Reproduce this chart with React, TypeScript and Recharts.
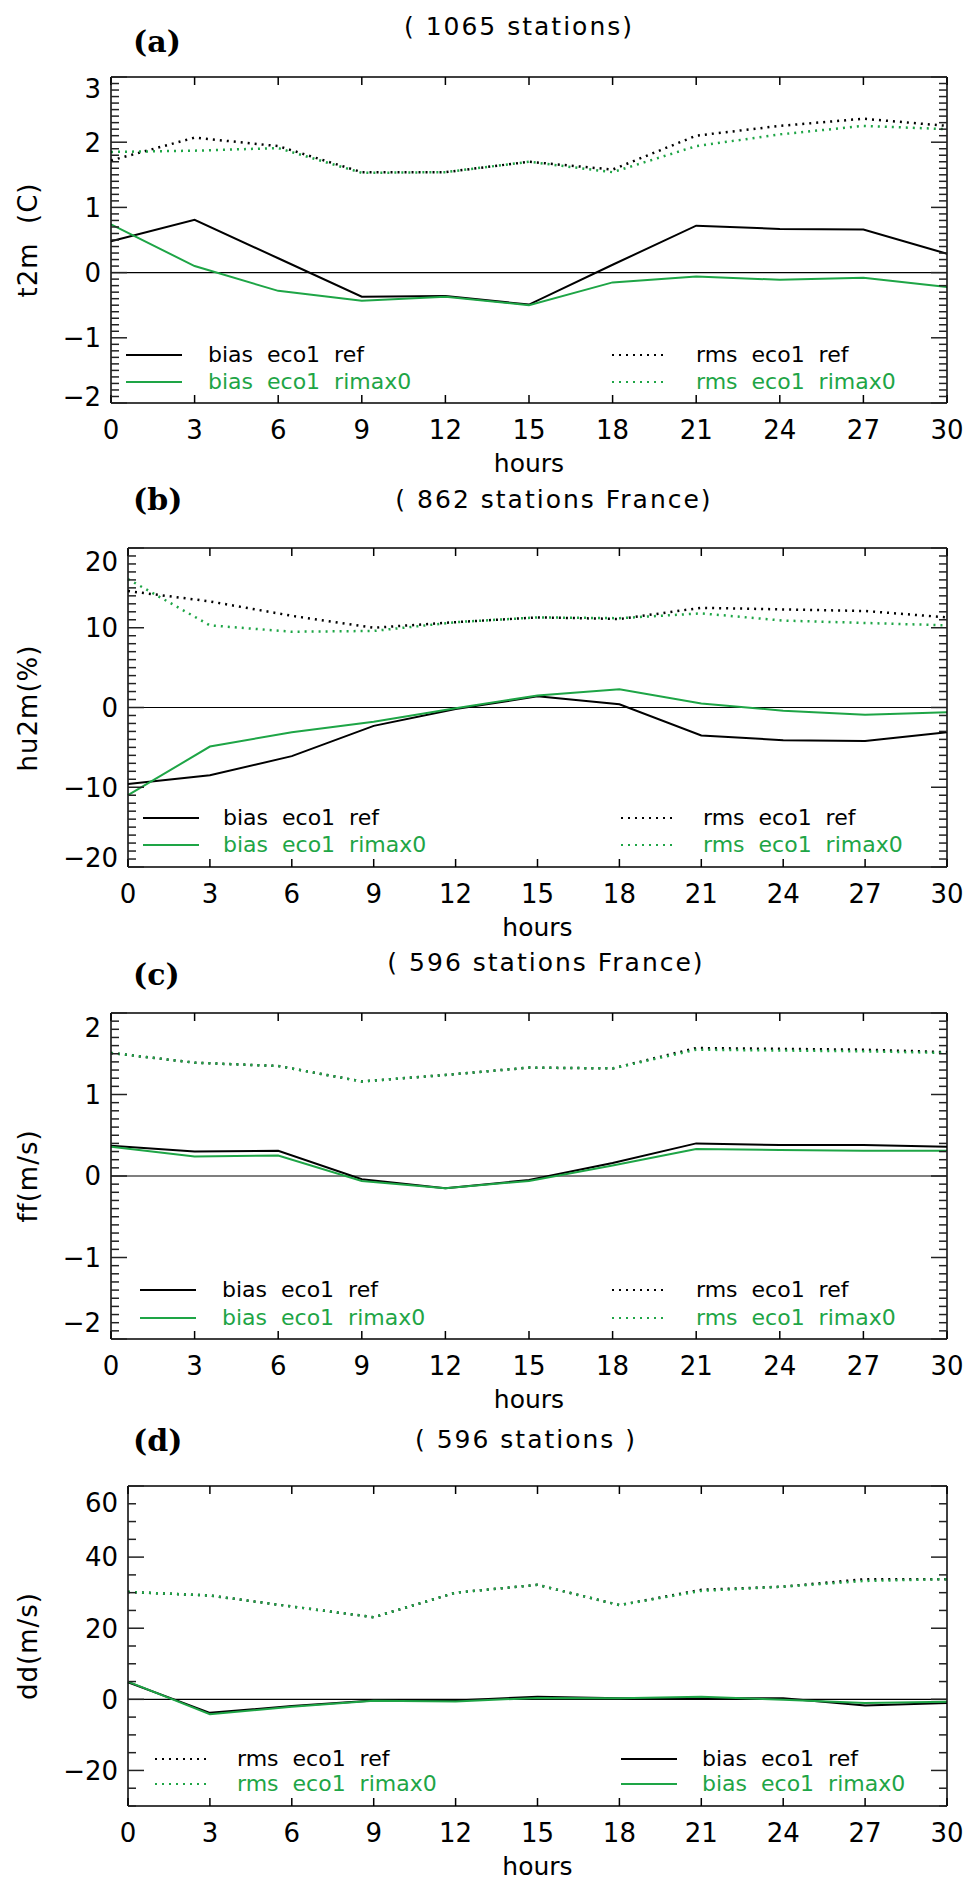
import React from "react";
import { LineChart, Line, XAxis, YAxis, ReferenceLine } from "recharts";

const hours = [0, 3, 6, 9, 12, 15, 18, 21, 24, 27, 30];

// (a) t2m
const t2mBiasRef = [0.48, 0.81, 0.22, -0.37, -0.36, -0.49, 0.12, 0.72, 0.67, 0.66, 0.29];
const t2mBiasRimax = [0.74, 0.1, -0.28, -0.43, -0.37, -0.5, -0.15, -0.06, -0.11, -0.08, -0.22];
const t2mRmsRef = [1.72, 2.07, 1.94, 1.54, 1.54, 1.7, 1.58, 2.1, 2.25, 2.36, 2.25];
const t2mRmsRimax = [1.85, 1.87, 1.91, 1.53, 1.54, 1.7, 1.54, 1.94, 2.12, 2.25, 2.2];
const t2mTicks = [-2, -1, 0, 1, 2, 3];

// (b) hu2m
const hu2mBiasRef = [-9.6, -8.5, -6.1, -2.3, -0.2, 1.4, 0.4, -3.5, -4.1, -4.2, -3.1];
const hu2mBiasRimax = [-11.0, -4.9, -3.1, -1.8, -0.1, 1.5, 2.3, 0.5, -0.4, -0.9, -0.6];
const hu2mRmsRef = [14.6, 13.3, 11.5, 10.0, 10.7, 11.3, 11.1, 12.5, 12.3, 12.1, 11.3];
const hu2mRmsRimax = [16.1, 10.3, 9.5, 9.6, 10.7, 11.3, 11.2, 11.8, 10.9, 10.6, 10.3];
const hu2mTicks = [-20, -10, 0, 10, 20];

// (c) ff
const ffBiasRef = [0.37, 0.3, 0.31, -0.04, -0.15, -0.05, 0.16, 0.4, 0.38, 0.38, 0.36];
const ffBiasRimax = [0.36, 0.24, 0.25, -0.06, -0.15, -0.06, 0.13, 0.33, 0.32, 0.31, 0.31];
const ffRmsRef = [1.51, 1.39, 1.35, 1.16, 1.24, 1.33, 1.32, 1.57, 1.56, 1.55, 1.52];
const ffRmsRimax = [1.51, 1.39, 1.35, 1.16, 1.24, 1.33, 1.32, 1.55, 1.54, 1.53, 1.51];
const ffTicks = [-2, -1, 0, 1, 2];

// (d) dd
const ddBiasRef = [4.8, -3.8, -1.9, -0.3, -0.3, 0.75, 0.3, 0.3, 0.3, -1.7, -1.0];
const ddBiasRimax = [5.0, -4.2, -2.1, -0.4, -0.6, 0.4, 0.3, 0.75, -0.1, -1.0, -0.7];
const ddRmsRef = [30.2, 29.2, 26.1, 23.1, 30.0, 32.2, 26.5, 30.8, 31.7, 33.8, 33.8];
const ddRmsRimax = [30.2, 29.2, 26.1, 23.1, 30.0, 32.2, 26.5, 30.5, 31.7, 33.3, 33.8];
const ddTicks = [-20, 0, 20, 40, 60];

const GREEN = "#1ea546";
const FONT = "'DejaVu Sans', sans-serif";
const PLOT_RIGHT = 947;

const fmt = (v: number) => (v < 0 ? "\u2212" + Math.abs(v) : String(v));
const near = (a: number, b: number) => Math.abs(a - b) < 1e-6;

function buildTicks(lo: number, hi: number, step: number) {
  const out: number[] = [];
  for (let v = lo; v <= hi + 1e-9; v += step) out.push(Math.round(v * 1e6) / 1e6);
  return out;
}

type LegendCfg = {
  rows: [number, number];
  leftSample: number;
  leftText: number;
  rightSample: number;
  rightText: number;
  rmsFirst?: boolean;
};

type PanelCfg = {
  letter: string;
  letterY: number;
  title: string;
  titleX: number;
  titleY: number;
  yLabel: string;
  top: number;
  bottom: number;
  left: number;
  domain: [number, number];
  majors: number[];
  minorStep: number;
  shift: [number, number];
  biasRef: number[];
  biasRimax: number[];
  rmsRef: number[];
  rmsRimax: number[];
  legend: LegendCfg;
};

function LegendItem({ x, tx, y, color, dotted, text }: any) {
  return (
    <>
      <svg
        style={{ position: "absolute", left: x, top: y - 3 }}
        width={56}
        height={6}
      >
        <line
          x1={0}
          x2={56}
          y1={3}
          y2={3}
          stroke={color}
          strokeWidth={2}
          strokeDasharray={dotted ? "2 5" : undefined}
        />
      </svg>
      <div
        style={{
          position: "absolute",
          left: tx,
          top: y - 14,
          fontFamily: FONT,
          fontSize: 22,
          lineHeight: "28px",
          color: color,
          whiteSpace: "pre",
        }}
      >
        {text}
      </div>
    </>
  );
}

function Panel({ cfg }: { cfg: PanelCfg }) {
  const data = hours.map((h, i) => ({
    h,
    biasRef: cfg.biasRef[i],
    biasRimax: cfg.biasRimax[i],
    rmsRef: cfg.rmsRef[i],
    rmsRimax: cfg.rmsRimax[i],
  }));
  const yTicks = buildTicks(cfg.domain[0], cfg.domain[1], cfg.minorStep);
  const isMajor = (v: number) => cfg.majors.some((m) => near(m, v));
  const chartTop = cfg.top - 10;
  const height = cfg.bottom - cfg.top + 10 + 50;

  const leftTick = (p: any) => {
    const v = p.payload.value;
    const major = isMajor(v);
    let dy = 0;
    if (near(v, cfg.domain[1])) dy = cfg.shift[0];
    if (near(v, cfg.domain[0])) dy = cfg.shift[1];
    return (
      <g>
        <line x1={p.x} x2={p.x + (major ? 16 : 8)} y1={p.y} y2={p.y} stroke="#222" strokeWidth={1.5} />
        {major && (
          <text x={p.x - 10} y={p.y + dy} dy="0.36em" textAnchor="end" fontFamily={FONT} fontSize={26} fill="#000">
            {fmt(v)}
          </text>
        )}
      </g>
    );
  };
  const rightTick = (p: any) => {
    const major = isMajor(p.payload.value);
    return <line x1={p.x} x2={p.x - (major ? 16 : 8)} y1={p.y} y2={p.y} stroke="#222" strokeWidth={1.5} />;
  };
  const bottomTick = (p: any) => (
    <g>
      <line x1={p.x} x2={p.x} y1={p.y} y2={p.y - 8} stroke="#000" strokeWidth={1.5} />
      <text x={p.x} y={p.y + 27} dy="0.36em" textAnchor="middle" fontFamily={FONT} fontSize={26} fill="#000">
        {p.payload.value}
      </text>
    </g>
  );
  const topTick = (p: any) => (
    <line x1={p.x} x2={p.x} y1={p.y} y2={p.y + 8} stroke="#000" strokeWidth={1.5} />
  );

  const lg = cfg.legend;
  const biasItems = [
    { color: "#000", dotted: false, text: "bias  eco1  ref" },
    { color: GREEN, dotted: false, text: "bias  eco1  rimax0" },
  ];
  const rmsItems = [
    { color: "#000", dotted: true, text: "rms  eco1  ref" },
    { color: GREEN, dotted: true, text: "rms  eco1  rimax0" },
  ];
  const leftItems = lg.rmsFirst ? rmsItems : biasItems;
  const rightItems = lg.rmsFirst ? biasItems : rmsItems;

  return (
    <>
      <div
        style={{
          position: "absolute",
          left: 133,
          top: cfg.letterY - 20,
          fontFamily: "'DejaVu Serif', serif",
          fontWeight: "bold",
          fontSize: 30,
          lineHeight: "40px",
        }}
      >
        {cfg.letter}
      </div>
      <div
        style={{
          position: "absolute",
          left: cfg.titleX,
          top: cfg.titleY - 16,
          transform: "translateX(-50%)",
          fontFamily: FONT,
          fontSize: 25,
          lineHeight: "32px",
          letterSpacing: 2,
          whiteSpace: "pre",
        }}
      >
        {cfg.title}
      </div>
      <div
        style={{
          position: "absolute",
          left: 28,
          top: (cfg.top + cfg.bottom) / 2,
          transform: "translate(-50%, -50%) rotate(-90deg)",
          fontFamily: FONT,
          fontSize: 26,
          lineHeight: "30px",
          letterSpacing: 1,
          whiteSpace: "pre",
        }}
      >
        {cfg.yLabel}
      </div>
      <div
        style={{
          position: "absolute",
          left: (cfg.left + PLOT_RIGHT) / 2,
          top: cfg.bottom + 61 - 16,
          transform: "translateX(-50%)",
          fontFamily: FONT,
          fontSize: 25,
          lineHeight: "32px",
        }}
      >
        hours
      </div>
      <div style={{ position: "absolute", left: 0, top: chartTop }}>
        <LineChart width={964} height={height} data={data} margin={{ top: 0, right: 0, bottom: 0, left: 0 }}>
          <XAxis
            xAxisId="b"
            dataKey="h"
            type="number"
            domain={[0, 30]}
            ticks={hours}
            interval={0}
            orientation="bottom"
            height={50}
            tickSize={0}
            tickMargin={0}
            tickLine={false}
            tick={bottomTick}
            axisLine={{ stroke: "#000", strokeWidth: 1.5 }}
          />
          <XAxis
            xAxisId="t"
            dataKey="h"
            type="number"
            domain={[0, 30]}
            ticks={hours}
            interval={0}
            orientation="top"
            height={10}
            tickSize={0}
            tickMargin={0}
            tickLine={false}
            tick={topTick}
            axisLine={{ stroke: "#000", strokeWidth: 1.5 }}
          />
          <YAxis
            yAxisId="l"
            type="number"
            domain={cfg.domain}
            ticks={yTicks}
            interval={0}
            width={cfg.left}
            tickSize={0}
            tickMargin={0}
            tickLine={false}
            tick={leftTick}
            allowDataOverflow
            axisLine={{ stroke: "#000", strokeWidth: 1.5 }}
          />
          <YAxis
            yAxisId="r"
            orientation="right"
            type="number"
            domain={cfg.domain}
            ticks={yTicks}
            interval={0}
            width={964 - PLOT_RIGHT}
            tickSize={0}
            tickMargin={0}
            tickLine={false}
            tick={rightTick}
            allowDataOverflow
            axisLine={{ stroke: "#000", strokeWidth: 1.5 }}
          />
          <ReferenceLine xAxisId="b" yAxisId="l" y={0} stroke="#000" strokeWidth={1.2} />
          <Line xAxisId="b" yAxisId="l" dataKey="rmsRef" stroke="#000" strokeWidth={2.5} strokeDasharray="2 5" dot={false} isAnimationActive={false} />
          <Line xAxisId="b" yAxisId="l" dataKey="rmsRimax" stroke={GREEN} strokeWidth={2.5} strokeDasharray="2 5" dot={false} isAnimationActive={false} />
          <Line xAxisId="b" yAxisId="l" dataKey="biasRef" stroke="#000" strokeWidth={2} dot={false} isAnimationActive={false} />
          <Line xAxisId="b" yAxisId="l" dataKey="biasRimax" stroke={GREEN} strokeWidth={2} dot={false} isAnimationActive={false} />
        </LineChart>
      </div>
      {leftItems.map((it, i) => (
        <LegendItem key={"l" + i} x={lg.leftSample} tx={lg.leftText} y={lg.rows[i]} {...it} />
      ))}
      {rightItems.map((it, i) => (
        <LegendItem key={"r" + i} x={lg.rightSample} tx={lg.rightText} y={lg.rows[i]} {...it} />
      ))}
    </>
  );
}

const panels: PanelCfg[] = [
  {
    letter: "(a)", letterY: 42, title: "( 1065 stations)", titleX: 519, titleY: 27, yLabel: "t2m  (C)",
    top: 77, bottom: 403, left: 111, domain: [-2, 3], majors: t2mTicks, minorStep: 0.1, shift: [12, -6],
    biasRef: t2mBiasRef, biasRimax: t2mBiasRimax, rmsRef: t2mRmsRef, rmsRimax: t2mRmsRimax,
    legend: { rows: [355, 382], leftSample: 126, leftText: 208, rightSample: 612, rightText: 696 },
  },
  {
    letter: "(b)", letterY: 500, title: "( 862 stations France)", titleX: 554, titleY: 500, yLabel: "hu2m(%)",
    top: 548, bottom: 867, left: 128, domain: [-20, 20], majors: hu2mTicks, minorStep: 1, shift: [14, -9],
    biasRef: hu2mBiasRef, biasRimax: hu2mBiasRimax, rmsRef: hu2mRmsRef, rmsRimax: hu2mRmsRimax,
    legend: { rows: [818, 845], leftSample: 143, leftText: 223, rightSample: 621, rightText: 703 },
  },
  {
    letter: "(c)", letterY: 975, title: "( 596 stations France)", titleX: 546, titleY: 963, yLabel: "ff(m/s)",
    top: 1013, bottom: 1339, left: 111, domain: [-2, 2], majors: ffTicks, minorStep: 0.1, shift: [15, -16],
    biasRef: ffBiasRef, biasRimax: ffBiasRimax, rmsRef: ffRmsRef, rmsRimax: ffRmsRimax,
    legend: { rows: [1290, 1318], leftSample: 140, leftText: 222, rightSample: 612, rightText: 696 },
  },
  {
    letter: "(d)", letterY: 1441, title: "( 596 stations )", titleX: 526, titleY: 1440, yLabel: "dd(m/s)",
    top: 1486, bottom: 1806, left: 128, domain: [-30, 60], majors: ddTicks, minorStep: 5, shift: [17, 0],
    biasRef: ddBiasRef, biasRimax: ddBiasRimax, rmsRef: ddRmsRef, rmsRimax: ddRmsRimax,
    legend: { rows: [1759, 1784], leftSample: 155, leftText: 237, rightSample: 621, rightText: 702, rmsFirst: true },
  },
];

export default function App() {
  return (
    <div style={{ position: "absolute", left: 0, top: 0, width: 964, height: 1881, background: "#fff", overflow: "hidden" }}>
      {panels.map((p) => (
        <Panel key={p.letter} cfg={p} />
      ))}
    </div>
  );
}
